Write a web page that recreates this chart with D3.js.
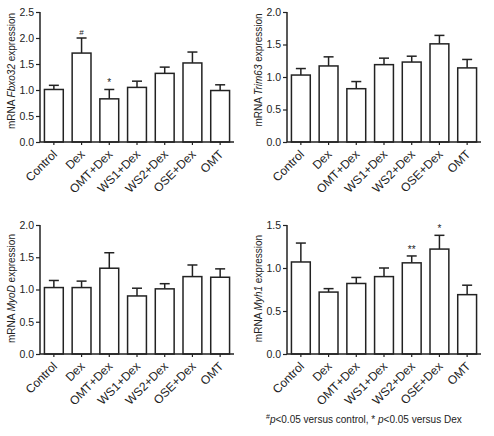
<!DOCTYPE html>
<html><head><meta charset="utf-8">
<script src="https://cdn.jsdelivr.net/npm/d3@7"></script>
<style>body{margin:0;background:#fff}svg{display:block}text{font-family:"Liberation Sans",Arial,sans-serif;fill:#222}</style>
</head><body><svg id="c" width="494" height="436"></svg>
<script>
const categories = ["Control","Dex","OMT+Dex","WS1+Dex","WS2+Dex","OSE+Dex","OMT"];
const fbxo32Mean = [1.01,1.71,0.83,1.05,1.32,1.52,0.99];
const fbxo32Err  = [0.08,0.29,0.18,0.12,0.12,0.21,0.11];
const fbxo32Marks = ["","#","*","","","",""];
const trim63Mean = [1.03,1.17,0.82,1.19,1.23,1.51,1.14];
const trim63Err  = [0.10,0.14,0.11,0.10,0.09,0.13,0.13];
const trim63Marks = ["","","","","","",""];
const myodMean = [1.03,1.03,1.33,0.90,1.01,1.20,1.19];
const myodErr  = [0.11,0.10,0.24,0.12,0.08,0.18,0.13];
const myodMarks = ["","","","","","",""];
const myh1Mean = [1.07,0.72,0.82,0.90,1.06,1.22,0.69];
const myh1Err  = [0.22,0.04,0.07,0.10,0.08,0.16,0.11];
const myh1Marks = ["","","","","**","*",""];
const yTicksA = [0,0.5,1.0,1.5,2.0,2.5];
const yTicksB = [0,0.5,1.0,1.5,2.0];
const yTicksC = [0,0.5,1.0,1.5];

const svg = d3.select("#c");
function panel(x0,y0,w,h,gene,mean,err,marks,ymax,ticks,titleShift){
  const g = svg.append("g").attr("transform",`translate(${x0},${y0})`);
  const x = d3.scaleBand().domain(categories).range([0,w]).padding(0.32).paddingOuter(0.16);
  const y = d3.scaleLinear().domain([0,ymax]).range([h,0]);
  categories.forEach((c,i)=>{
    const bx = x(c), bw = x.bandwidth(), cx = bx+bw/2;
    g.append("line").attr("x1",cx).attr("x2",cx).attr("y1",y(mean[i])).attr("y2",y(mean[i]+err[i]))
      .attr("stroke","#222").attr("stroke-width",1.5);
    g.append("line").attr("x1",cx-5).attr("x2",cx+5).attr("y1",y(mean[i]+err[i])).attr("y2",y(mean[i]+err[i]))
      .attr("stroke","#222").attr("stroke-width",1.5);
    g.append("rect").attr("x",bx).attr("y",y(mean[i])).attr("width",bw).attr("height",h-y(mean[i]))
      .attr("fill","#fff").attr("stroke","#222").attr("stroke-width",1.5);
    if(marks[i]) g.append("text").attr("x",cx).attr("y",y(mean[i]+err[i])-3).attr("text-anchor","middle")
      .attr("font-size", marks[i]==="#"?8:10).text(marks[i]);
  });
  const ya = g.append("g").call(d3.axisLeft(y).tickValues(ticks).tickFormat(d3.format(".1f")).tickSize(4).tickPadding(2));
  const xa = g.append("g").attr("transform",`translate(0,${h})`).call(d3.axisBottom(x).tickSize(3).tickFormat(""));
  [ya,xa].forEach(a=>{a.select(".domain").attr("stroke","#222").attr("stroke-width",1.5);
    a.selectAll(".tick line").attr("stroke","#222").attr("stroke-width",1.2);
    a.selectAll("text").attr("font-size",10.5).attr("fill","#222").attr("font-family","Liberation Sans, Arial, sans-serif");});
  ya.select(".domain").attr("d",`M0,${h}V0`);
  xa.select(".domain").attr("d",`M0,0H${w}`);
  categories.forEach(c=>{
    const cx = x(c)+x.bandwidth()/2;
    g.append("text").attr("transform",`translate(${cx+4},${h+13}) rotate(-45)`)
      .attr("text-anchor","end").attr("font-size",12).text(c);
  });
  const t = g.append("text").attr("transform",`translate(-25,${h/2+titleShift}) rotate(-90)`).attr("text-anchor","middle")
    .attr("font-size",10);
  t.append("tspan").text("mRNA ");
  t.append("tspan").attr("font-style","italic").text(gene);
  t.append("tspan").text(" expression");
}
panel(40,12,194,130,"Fbxo32",fbxo32Mean,fbxo32Err,fbxo32Marks,2.5,yTicksA,-6);
panel(287,12,194,130,"Trim63",trim63Mean,trim63Err,trim63Marks,2.0,yTicksB,-7);
panel(40,225,194,129,"MyoD",myodMean,myodErr,myodMarks,2.0,yTicksB,-1);
panel(287,225,194,129,"Myh1",myh1Mean,myh1Err,myh1Marks,1.5,yTicksC,-1);
const f = svg.append("text").attr("x",266).attr("y",423).attr("font-size",10);
f.append("tspan").attr("font-size",7).attr("dy",-4).text("#");
f.append("tspan").attr("font-style","italic").attr("dy",4).text("p");
f.append("tspan").text("<0.05 versus control, * ");
f.append("tspan").attr("font-style","italic").text("p");
f.append("tspan").text("<0.05 versus Dex");
</script></body></html>
